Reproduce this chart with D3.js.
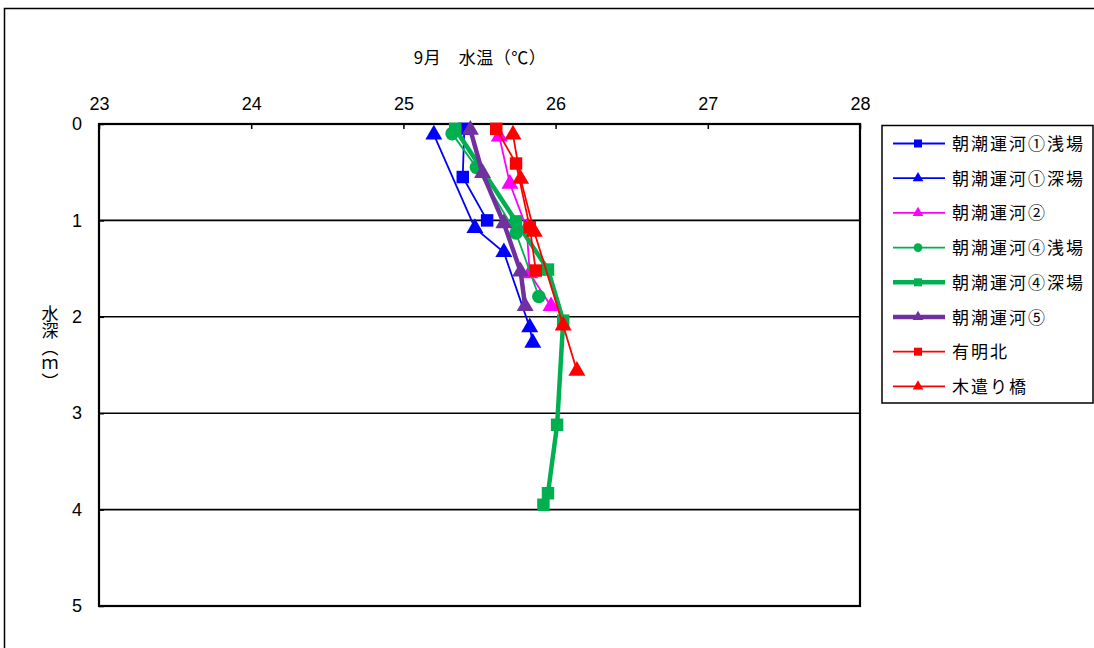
<!DOCTYPE html>
<html><head><meta charset="utf-8">
<script src="https://cdn.jsdelivr.net/npm/d3@7"></script>
<style>
html,body{margin:0;padding:0;background:#fff;}
svg{display:block;}
text{fill:#000;}
</style></head>
<body>
<svg id="chart" width="1094" height="648"></svg>
<script>
// ---- data ----
const titleText = "9月　水温（℃）";
const yTitleText = "水深（ｍ）";
const xTicks = [23, 24, 25, 26, 27, 28];
const yTicks = [0, 1, 2, 3, 4, 5];
const seriesNames = ["朝潮運河①浅場","朝潮運河①深場","朝潮運河②","朝潮運河④浅場","朝潮運河④深場","朝潮運河⑤","有明北","木遣り橋"];
const s1Temp = [25.40, 25.39, 25.55];
const s1Depth = [0.05, 0.55, 1.00];
const s2Temp = [25.20, 25.47, 25.66, 25.83, 25.85];
const s2Depth = [0.11, 1.08, 1.33, 2.11, 2.27];
const s3Temp = [25.63, 25.70, 25.81, 25.83, 25.97];
const s3Depth = [0.13, 0.62, 1.08, 1.55, 1.89];
const s4Temp = [25.32, 25.48, 25.74, 25.89];
const s4Depth = [0.10, 0.45, 1.13, 1.79];
const s5Temp = [25.34, 25.74, 25.95, 26.05, 26.01, 25.95, 25.92];
const s5Depth = [0.05, 1.01, 1.51, 2.04, 3.12, 3.83, 3.95];
const s6Temp = [25.44, 25.52, 25.66, 25.77, 25.80];
const s6Depth = [0.06, 0.51, 1.03, 1.53, 1.89];
const s7Temp = [25.61, 25.74, 25.83, 25.87];
const s7Depth = [0.05, 0.41, 1.07, 1.52];
const s8Temp = [25.72, 25.77, 25.86, 26.05, 26.14];
const s8Depth = [0.11, 0.57, 1.12, 2.09, 2.56];

const temps = [s1Temp, s2Temp, s3Temp, s4Temp, s5Temp, s6Temp, s7Temp, s8Temp];
const depths = [s1Depth, s2Depth, s3Depth, s4Depth, s5Depth, s6Depth, s7Depth, s8Depth];

// ---- styles ----
const colors = ["#0000FF","#0000FF","#FF00FF","#00B050","#00B050","#7030A0","#FF0000","#FF0000"];
const markers = ["square","triangle","triangle","circle","square","triangle","square","triangle"];
const widths = [1.8,1.8,1.8,1.8,4.5,4.5,1.8,1.8];

const svg = d3.select("#chart");
const L = 99, R = 860, T = 124, B = 606;
const x = d3.scaleLinear().domain([23, 28]).range([L, R]);
const y = d3.scaleLinear().domain([0, 5]).range([T, B]);
const numFont = "'Liberation Sans', Arial, 'Noto Sans CJK JP', sans-serif";
const jpFont = "'Noto Sans CJK JP', 'Liberation Sans', sans-serif";

// outer border
svg.append("rect").attr("x", 4.5).attr("y", 8.5).attr("width", 1200).attr("height", 800)
  .attr("fill", "#fff").attr("stroke", "#000").attr("stroke-width", 1.5);

// gridlines
svg.append("g").selectAll("line").data(yTicks.filter(d => d > 0 && d < 5)).join("line")
  .attr("x1", L).attr("x2", R).attr("y1", d => y(d)).attr("y2", d => y(d))
  .attr("stroke", "#000").attr("stroke-width", 1.6);

// axes
const xAxis = svg.append("g").attr("transform", `translate(0,${T})`)
  .call(d3.axisTop(x).tickValues(xTicks).tickFormat(d3.format("d")).tickSize(-5).tickPadding(14).tickSizeOuter(0));
xAxis.select(".domain").remove();
xAxis.selectAll("line").attr("stroke", "#000").attr("stroke-width", 1.5);
xAxis.selectAll("text").attr("font-family", numFont).attr("font-size", 18).attr("fill", "#000");

const yAxis = svg.append("g").attr("transform", `translate(${L},0)`)
  .call(d3.axisLeft(y).tickValues(yTicks).tickFormat(d3.format("d")).tickSize(-5).tickPadding(17).tickSizeOuter(0));
yAxis.select(".domain").remove();
yAxis.selectAll("line").attr("stroke", "#000").attr("stroke-width", 1.5);
yAxis.selectAll("text").attr("font-family", numFont).attr("font-size", 18).attr("fill", "#000");

// plot frame
svg.append("rect").attr("x", L).attr("y", T).attr("width", R - L).attr("height", B - T)
  .attr("fill", "none").attr("stroke", "#000").attr("stroke-width", 2.2);

// titles
svg.append("text").attr("x", 480).attr("y", 64).attr("text-anchor", "middle")
  .attr("font-family", jpFont).attr("font-size", 17).attr("letter-spacing", 0.5).text(titleText);
svg.append("text").attr("x", 50).attr("y", 305)
  .attr("font-family", jpFont).attr("font-size", 17)
  .style("writing-mode", "vertical-rl").style("text-orientation", "mixed")
  .text(yTitleText);

function symbolFor(m, big) {
  if (m === "square") return d3.symbol(d3.symbolSquare, big ? 155 : 64)();
  if (m === "circle") return d3.symbol(d3.symbolCircle, big ? 145 : 60)();
  return d3.symbol(d3.symbolTriangle, big ? 125 : 50)();
}

// series
const line = d3.line().x(d => x(d[0])).y(d => y(d[1]));
seriesNames.forEach((name, i) => {
  const pts = temps[i].map((t, j) => [t, depths[i][j]]);
  const g = svg.append("g");
  g.append("path").datum(pts).attr("d", line).attr("fill", "none")
    .attr("stroke", colors[i]).attr("stroke-width", widths[i]).attr("stroke-linejoin", "round");
  g.selectAll("path.m").data(pts).join("path").attr("class", "m")
    .attr("transform", d => `translate(${x(d[0])},${y(d[1])})`)
    .attr("d", symbolFor(markers[i], true)).attr("fill", colors[i]);
});

// legend
const lg = svg.append("g");
lg.append("rect").attr("x", 882).attr("y", 125.5).attr("width", 211).attr("height", 277.5)
  .attr("fill", "#fff").attr("stroke", "#000").attr("stroke-width", 1.5);
seriesNames.forEach((name, i) => {
  const yy = 143.5 + i * 34.7;
  lg.append("line").attr("x1", 893).attr("x2", 945).attr("y1", yy).attr("y2", yy)
    .attr("stroke", colors[i]).attr("stroke-width", widths[i]);
  lg.append("path").attr("transform", `translate(918,${yy})`)
    .attr("d", symbolFor(markers[i], false)).attr("fill", colors[i]);
  lg.append("text").attr("x", 952).attr("y", yy + 6.5)
    .attr("font-family", jpFont).attr("font-size", 17).attr("letter-spacing", 2).text(name);
});
</script>
</body></html>
